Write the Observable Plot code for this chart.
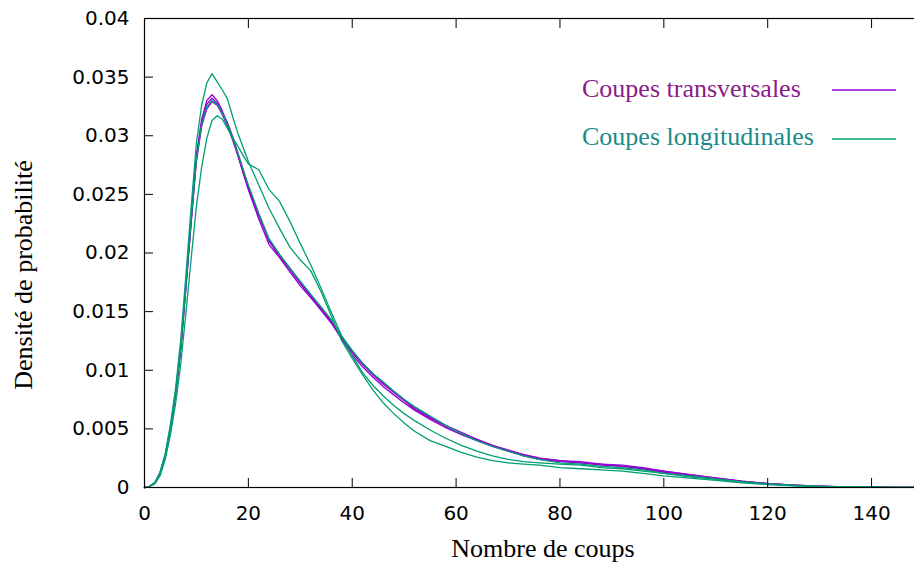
<!DOCTYPE html>
<html><head><meta charset="utf-8">
<script src="https://cdn.jsdelivr.net/npm/d3@7"></script>
<script src="https://cdn.jsdelivr.net/npm/@observablehq/plot@0.6"></script>
<style>html,body{margin:0;padding:0;overflow:hidden;background:#fff;width:914px;height:565px}
#chart svg{max-width:none !important;display:block}</style>
</head><body><div id="chart"></div><script>
const xs = [0,1,2,3,4,5,6,7,8,9,10,11,12,13,14,15,16,17,18,19,20,22,24,26,28,30,32,34,36,38,40,42,44,46,48,50,52,55,58,61,64,67,70,73,76,80,84,88,92,96,100,105,110,115,120,125,130,135,140,145,150];

// Coupes transversales (3 runs)
const trans1 = [0,0.0001,0.0004,0.0012,0.0027,0.0050,0.0080,0.0119,0.0173,0.0228,0.0281,0.0311,0.0327,0.0332,0.0328,0.0319,0.0311,0.0299,0.0285,0.0271,0.0255,0.0232,0.0210,0.0197,0.0186,0.0174,0.0163,0.0152,0.0141,0.0126,0.0113,0.0103,0.0094,0.0086,0.0079,0.0072,0.0066,0.0058,0.0051,0.0045,0.0040,0.0035,0.0031,0.0027,0.0024,0.0022,0.0021,0.0019,0.0018,0.0016,0.0013,0.0010,0.00078,0.00052,0.00032,0.00019,0.0001,0.00005,0.00003,0.00001,0.00001];
const trans2 = [0,0.0001,0.0004,0.0013,0.0028,0.0052,0.0082,0.0121,0.0175,0.0231,0.0284,0.0314,0.0330,0.0335,0.0330,0.0321,0.0310,0.0298,0.0283,0.0268,0.0254,0.0229,0.0207,0.0196,0.0184,0.0172,0.0162,0.0151,0.0140,0.0127,0.0115,0.0105,0.0096,0.0088,0.0081,0.0074,0.0067,0.0059,0.0052,0.0046,0.0041,0.0036,0.0031,0.0028,0.0025,0.0023,0.0021,0.0020,0.0018,0.0016,0.0014,0.0011,0.00082,0.00055,0.00034,0.0002,0.00011,0.00006,0.00003,0.00001,0.00001];
const trans3 = [0,0.0001,0.0004,0.0012,0.0027,0.0050,0.0079,0.0118,0.0171,0.0226,0.0278,0.0308,0.0323,0.0329,0.0326,0.0318,0.0308,0.0296,0.0283,0.0269,0.0256,0.0233,0.0211,0.0198,0.0187,0.0175,0.0164,0.0153,0.0142,0.0128,0.0116,0.0106,0.0097,0.0089,0.0082,0.0075,0.0068,0.0060,0.0053,0.0047,0.0041,0.0036,0.0032,0.0028,0.0025,0.0023,0.0022,0.0020,0.0019,0.0017,0.0014,0.0011,0.0008,0.00054,0.00033,0.0002,0.00011,0.00006,0.00003,0.00001,0.00001];

// Coupes longitudinales (3 runs)
const longi1 = [0,0.0001,0.0004,0.0012,0.0027,0.0050,0.0080,0.0120,0.0174,0.0229,0.0280,0.0309,0.0325,0.0330,0.0327,0.0319,0.0310,0.0298,0.0285,0.0271,0.0258,0.0234,0.0212,0.0199,0.0187,0.0176,0.0165,0.0154,0.0143,0.0129,0.0117,0.0106,0.0097,0.0090,0.0082,0.0075,0.0069,0.0061,0.0053,0.0046,0.0040,0.0035,0.0031,0.0027,0.0024,0.0021,0.0020,0.0018,0.0017,0.0015,0.0012,0.0010,0.00074,0.0005,0.0003,0.00018,0.0001,0.00005,0.00003,0.00001,0.00001];
const longi2 = [0,0.0001,0.0004,0.0013,0.0029,0.0054,0.0085,0.0127,0.0183,0.0240,0.0294,0.0326,0.0345,0.0353,0.0346,0.0339,0.0331,0.0316,0.0302,0.0290,0.0278,0.0258,0.0238,0.0221,0.0205,0.0194,0.0185,0.0167,0.0146,0.0125,0.0110,0.0096,0.0083,0.0072,0.0063,0.0055,0.0048,0.0040,0.0035,0.0030,0.0026,0.0023,0.0021,0.0020,0.0019,0.0017,0.0016,0.0015,0.0014,0.0012,0.0010,0.0008,0.0006,0.0004,0.00025,0.00015,0.00008,0.00004,0.00002,0.00001,0.00001];
const longi3 = [0,0.0001,0.0003,0.0010,0.0024,0.0045,0.0072,0.0106,0.0150,0.0196,0.0240,0.0273,0.0298,0.0313,0.0317,0.0314,0.0306,0.0298,0.0291,0.0283,0.0276,0.0271,0.0254,0.0244,0.0227,0.0208,0.0190,0.0170,0.0149,0.0129,0.0112,0.0098,0.0087,0.0078,0.0070,0.0063,0.0057,0.0049,0.0042,0.0036,0.0031,0.0027,0.0024,0.0022,0.0021,0.0020,0.0019,0.0017,0.0016,0.0014,0.0012,0.0009,0.0007,0.00045,0.00028,0.00017,0.00009,0.00005,0.00002,0.00001,0.00001];

const groupNames = ["Coupes transversales", "Coupes longitudinales"];
const lineColors = ["#9400d3", "#009e73"];
const textColors = ["#8b1a8b", "#1a8a8a"];

const yTicks = [0,0.005,0.01,0.015,0.02,0.025,0.03,0.035,0.04];
const yTickLabels = ["0","0.005","0.01","0.015","0.02","0.025","0.03","0.035","0.04"];
const xTicks = [0,20,40,60,80,100,120,140];
const xTickLabels = ["0","20","40","60","80","100","120","140"];

const xTitle = "Nombre de coups";
const yTitle = "Densité de probabilité";

const series = [
  {id: "t1", group: groupNames[0], values: trans1},
  {id: "t2", group: groupNames[0], values: trans2},
  {id: "t3", group: groupNames[0], values: trans3},
  {id: "l1", group: groupNames[1], values: longi1},
  {id: "l2", group: groupNames[1], values: longi2},
  {id: "l3", group: groupNames[1], values: longi3}
];
const rows = series.flatMap(s => xs.map((x, i) => ({x, y: s.values[i], id: s.id, group: s.group})));

const yLab = new Map(yTicks.map((t, i) => [t, yTickLabels[i]]));
const xLab = new Map(xTicks.map((t, i) => [t, xTickLabels[i]]));

const plot = Plot.plot({
  width: 930, height: 565,
  marginLeft: 144, marginRight: 7, marginTop: 18, marginBottom: 78,
  x: {domain: [0, 150]},
  y: {domain: [0, 0.04]},
  color: {domain: groupNames, range: lineColors},
  style: {fontFamily: "DejaVu Sans", fontSize: "20px", color: "black", background: "white", maxWidth: "none"},
  marks: [
    Plot.line(rows, {x: "x", y: "y", z: "id", stroke: "group", strokeWidth: 1.3}),
    Plot.frame({stroke: "black", strokeWidth: 1.2}),
    Plot.axisY(yTicks, {anchor: "left", tickSize: -9, tickPadding: 24, tickFormat: d => yLab.get(d), fontSize: 20, fontFamily: "DejaVu Sans", fill: "black", label: null}),
    Plot.axisY(yTicks, {anchor: "right", tickSize: -9, tickFormat: () => "", label: null}),
    Plot.axisX(xTicks, {anchor: "bottom", tickSize: -9, tickPadding: 27, tickFormat: d => xLab.get(d), fontSize: 20, fontFamily: "DejaVu Sans", fill: "black", label: null}),
    Plot.axisX(xTicks, {anchor: "top", tickSize: -9, tickFormat: () => "", label: null}),
    Plot.text([xTitle], {frameAnchor: "bottom", text: d => d, dx: 9, dy: 61, textAnchor: "middle", lineAnchor: "middle", fontFamily: "Liberation Serif", fontSize: 26, fill: "black"}),
    Plot.text([yTitle], {frameAnchor: "left", text: d => d, rotate: -90, dx: -121, dy: 22, textAnchor: "middle", lineAnchor: "middle", fontFamily: "Liberation Serif", fontSize: 26, fill: "black"})
  ]
});
document.getElementById("chart").appendChild(plot);

// Legend (key) drawn into the same SVG
const svg = d3.select(plot);
const key = svg.append("g").attr("class", "key").attr("text-anchor", "start");
const keyRows = [{ty: 97, ly: 90}, {ty: 145, ly: 139}];
groupNames.forEach((name, i) => {
  key.append("text").attr("x", 582).attr("y", keyRows[i].ty)
    .attr("text-anchor", "start")
    .attr("font-family", "Liberation Serif").attr("font-size", 26)
    .attr("fill", textColors[i]).text(name);
  key.append("line").attr("x1", 832).attr("x2", 896)
    .attr("y1", keyRows[i].ly).attr("y2", keyRows[i].ly)
    .attr("stroke", lineColors[i]).attr("stroke-width", 1.3);
});
</script></body></html>
